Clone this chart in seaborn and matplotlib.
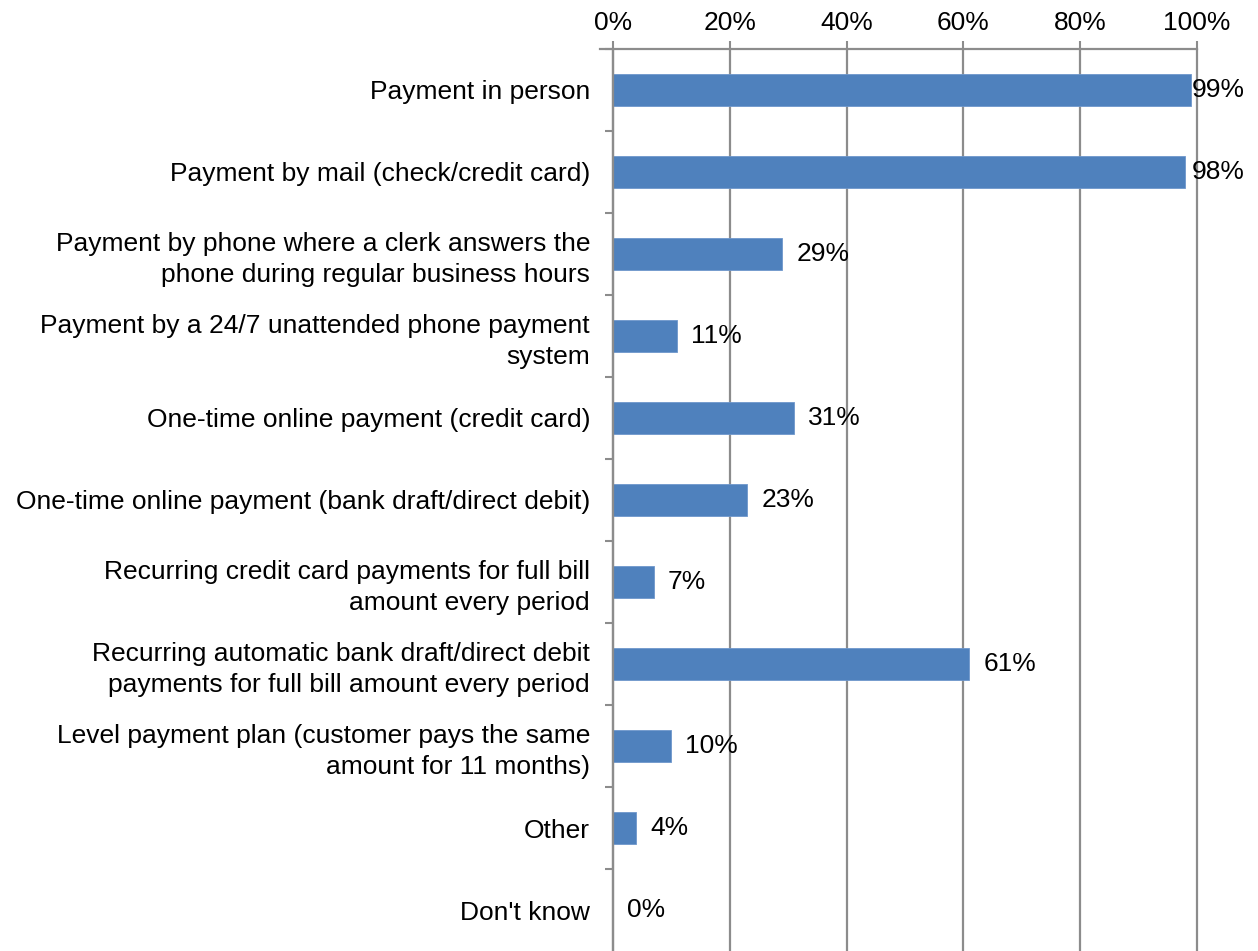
import matplotlib
matplotlib.use("Agg")
import matplotlib.pyplot as plt
import seaborn as sns
import pandas as pd
import numpy as np
from matplotlib.ticker import FixedLocator, PercentFormatter
from matplotlib.transforms import offset_copy

categories = [
    "Payment in person",
    "Payment by mail (check/credit card)",
    "Payment by phone where a clerk answers the\nphone during regular business hours",
    "Payment by a 24/7 unattended phone payment\nsystem",
    "One-time online payment (credit card)",
    "One-time online payment (bank draft/direct debit)",
    "Recurring credit card payments for full bill\namount every period",
    "Recurring automatic bank draft/direct debit\npayments for full bill amount every period",
    "Level payment plan (customer pays the same\namount for 11 months)",
    "Other",
    "Don't know",
]
values = [99, 98, 29, 11, 31, 23, 7, 61, 10, 4, 0]
x_ticks = [0, 20, 40, 60, 80, 100]

df = pd.DataFrame({"category": categories, "value": values})

sns.set_theme(style="white")
plt.rcParams["font.family"] = ["Liberation Sans", "DejaVu Sans"]

W, H = 1258, 951
FS = 19
fig = plt.figure(figsize=(W / 100, H / 100), dpi=100)
ax = fig.add_axes([613 / W, 0.0 / H, (1197 - 613) / W, (953 - 51) / H])

bar_color = "#4F81BD"
grid_color = "#8C8C8C"

sns.barplot(data=df, x="value", y="category", orient="h", color=bar_color,
            width=0.4, saturation=1, ax=ax, edgecolor="#6E97CC", linewidth=0.6)

ax.set_xlim(0, 100)
ax.set_ylim(len(categories) - 0.5, -0.5)
ax.set_xlabel("")
ax.set_ylabel("")

# x axis on top with percentage labels
ax.xaxis.set_major_locator(FixedLocator(x_ticks))
ax.xaxis.set_major_formatter(PercentFormatter(decimals=0))
ax.xaxis.tick_top()
ax.tick_params(axis="x", which="major", top=True, bottom=False, direction="out",
               length=6, width=1.5, color=grid_color, labelsize=FS, pad=4,
               labelcolor="black")
ax.grid(axis="x", color=grid_color, linewidth=1.6)
ax.set_axisbelow(True)
for gl in ax.get_xgridlines():
    gl.set_clip_on(False)

# category labels with boundary tick marks between categories
ax.tick_params(axis="y", which="major", left=True, length=0, labelsize=FS,
               pad=16.5, labelcolor="black")
ax.set_yticks(range(len(categories)))
ax.set_yticklabels(categories, ha="right", linespacing=1.32)
ax.yaxis.set_minor_locator(FixedLocator(np.arange(-0.5, len(categories) - 1, 1.0)))
ax.tick_params(axis="y", which="minor", left=True, direction="out",
               length=6, width=1.5, color=grid_color)

for side in ["right", "bottom"]:
    ax.spines[side].set_visible(False)
for side in ["left", "top"]:
    ax.spines[side].set_color(grid_color)
    ax.spines[side].set_linewidth(1.6)
ax.spines["top"].set_bounds(-2.2, 100)

# value labels just past each bar end, kept inside the figure near the right edge
right_limit = (1245 - 613) / 584 * 100
for i, v in enumerate(values):
    label = f"{v}%"
    if v + 13 > right_limit:
        ax.text(right_limit, i, label, ha="right", va="center", fontsize=FS, color="black")
    else:
        trans = offset_copy(ax.transData, fig=fig, x=14, y=0, units="dots")
        ax.text(v, i, label, ha="left", va="center", fontsize=FS, color="black",
                transform=trans)

fig.savefig("out.png", dpi=100)
